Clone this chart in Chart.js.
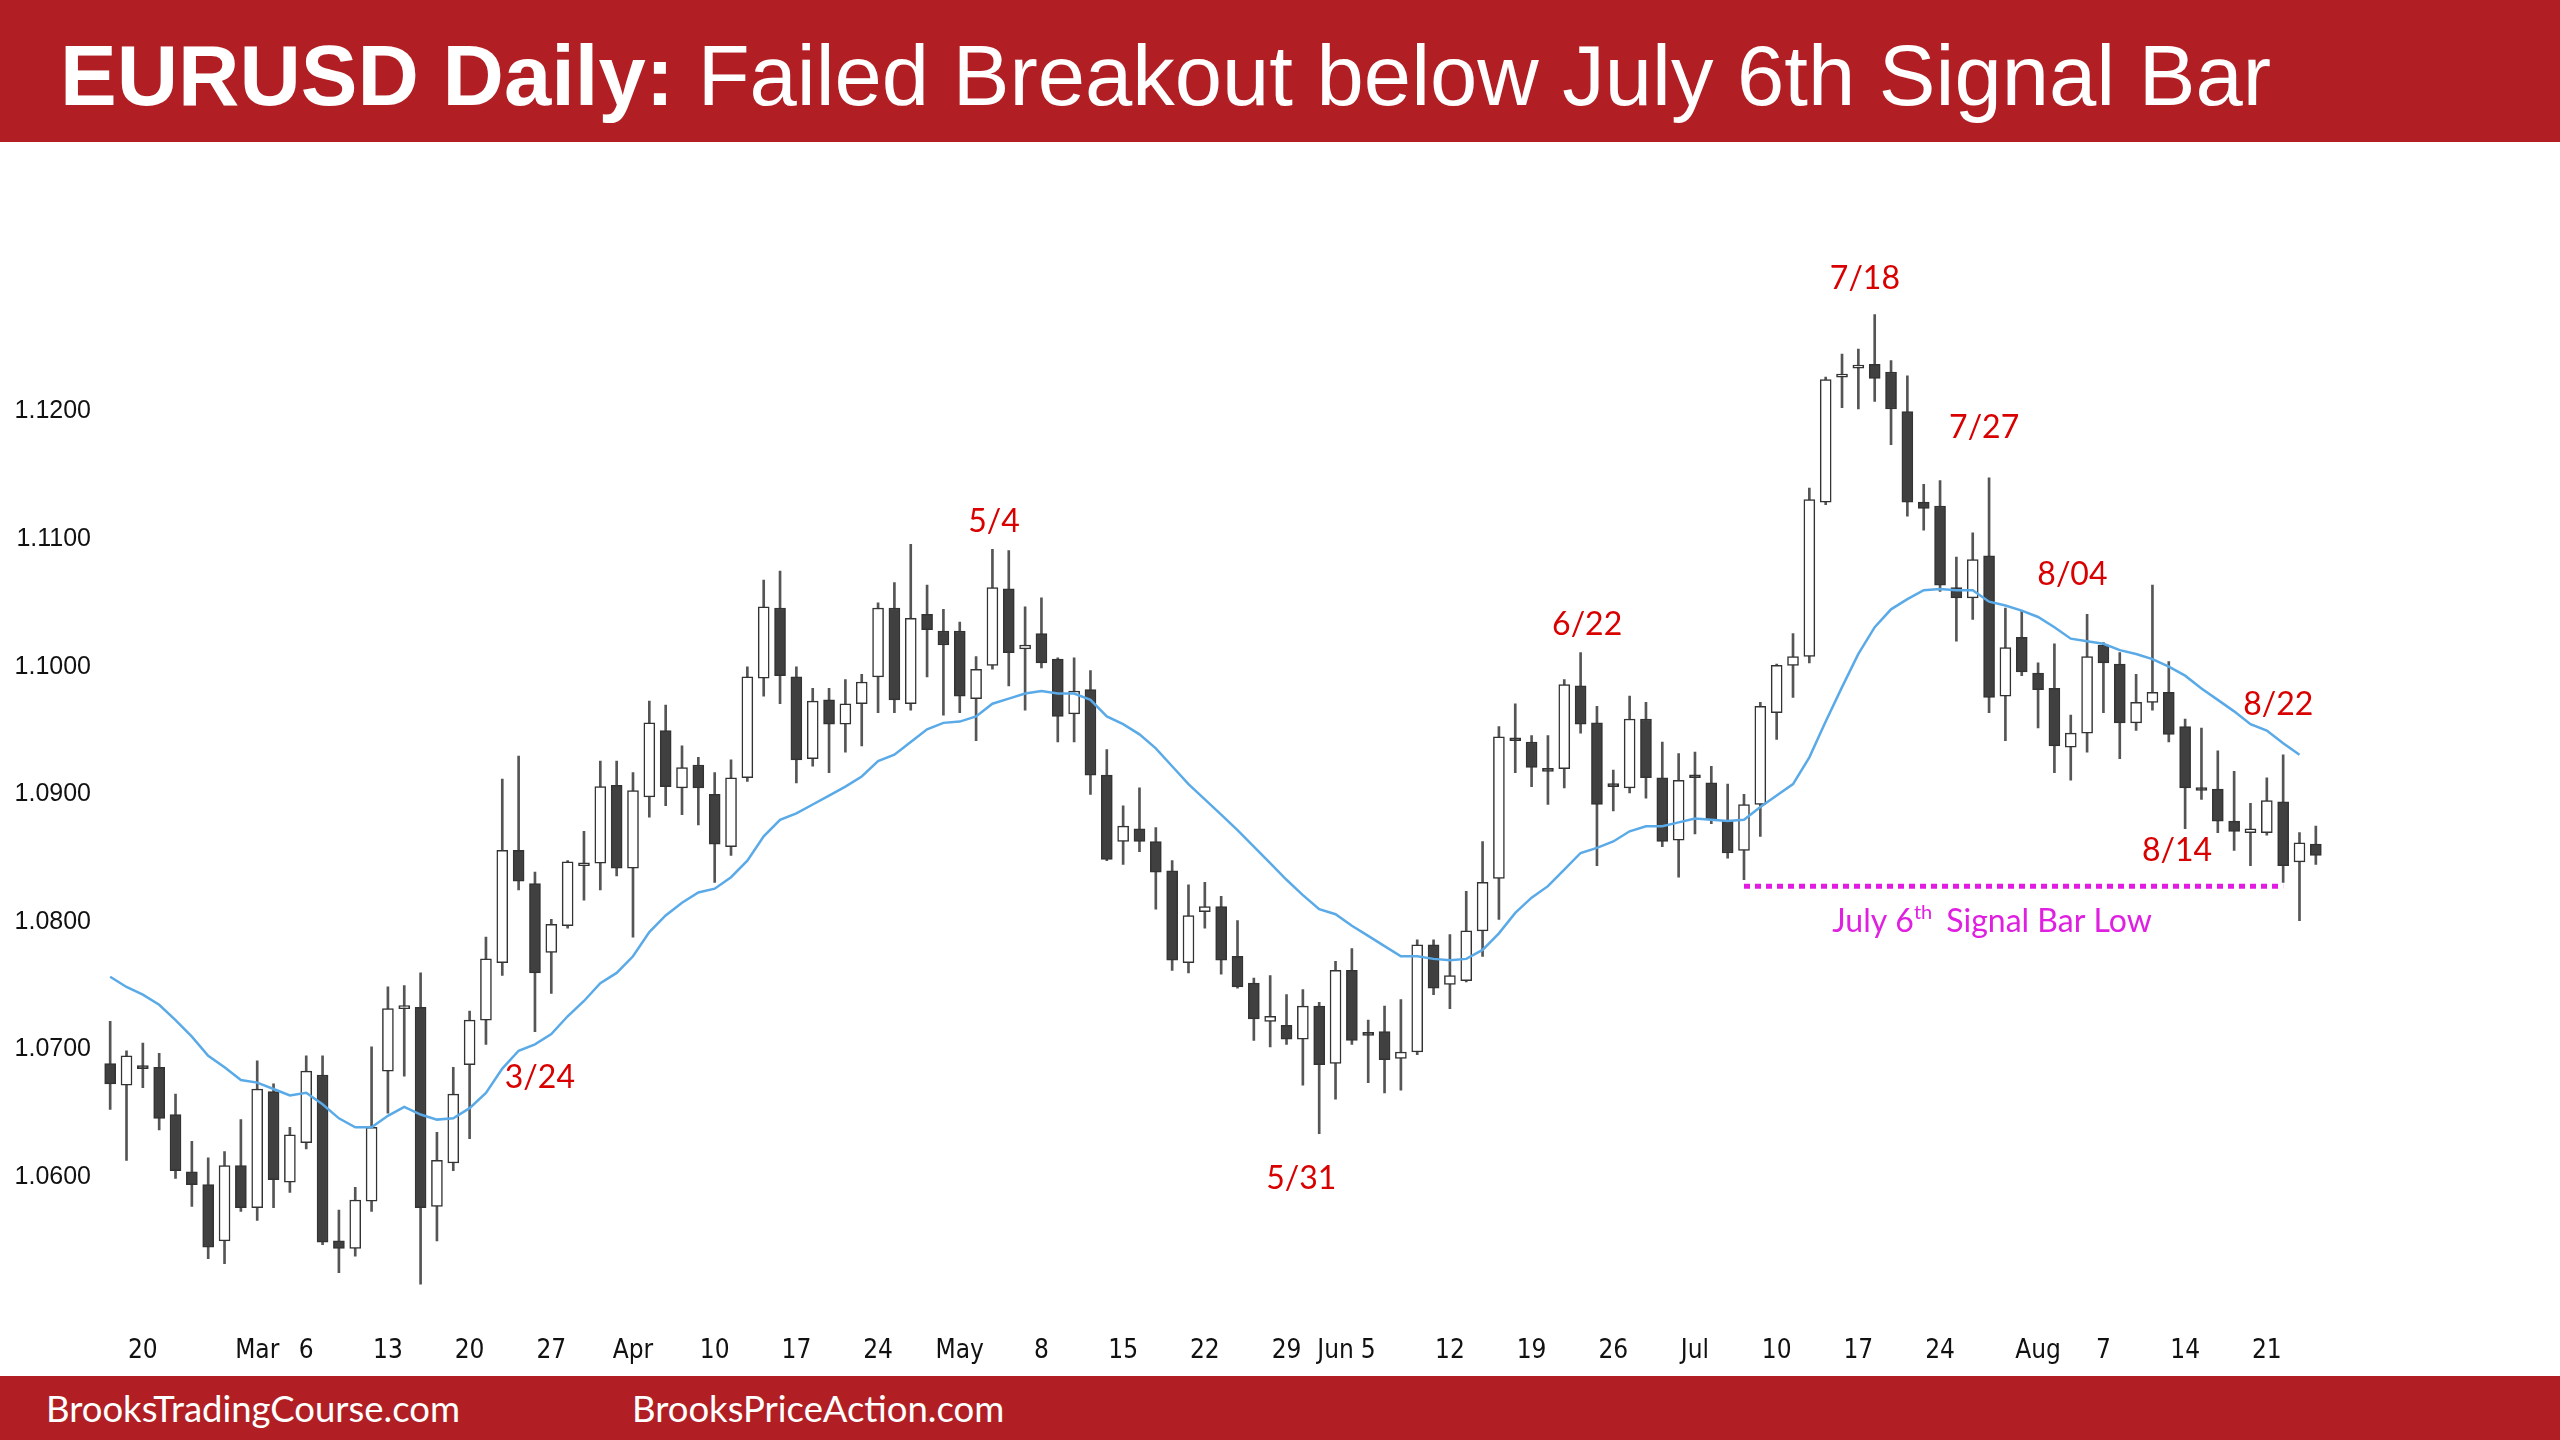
<!DOCTYPE html>
<html>
<head>
<meta charset="utf-8">
<script src="https://cdn.jsdelivr.net/npm/chart.js@4.4.0/dist/chart.umd.min.js"></script>
<style>
  body { margin: 0; width: 2560px; height: 1440px; overflow: hidden; background: #fff; position: relative; }
  #title { position: absolute; left: 0; top: 0; width: 2560px; height: 142px; overflow: hidden; background: #B11F24;
           color: #fff; font-family: 'Liberation Sans', Arial, sans-serif; font-size: 85px; line-height: 152px; padding-left: 60px; box-sizing: border-box; white-space: nowrap; }
  #footer { position: absolute; left: 0; top: 1376px; width: 2560px; height: 64px; background: #B11F24; color: #fff;
            font-family: Lato, 'Open Sans', sans-serif; font-size: 36.5px; line-height: 64px; }
  #footer span { position: absolute; top: 0; }
  #wrap { position: absolute; left: 0; top: 142px; width: 2560px; height: 1234px; }
</style>
</head>
<body>
<div id="title"><b>EURUSD Daily:</b> Failed Breakout below July 6th Signal Bar</div>
<div id="wrap"><canvas id="eurusdChart"></canvas></div>
<div id="footer"><span style="left:46px">BrooksTradingCourse.com</span><span style="left:632px">BrooksPriceAction.com</span></div>
<script>
// Daily bars, Feb 16 - Aug 24 (2023)
const dates = [
  '2/16','2/17','2/20','2/21','2/22','2/23','2/24','2/27','2/28',
  '3/1','3/2','3/3','3/6','3/7','3/8','3/9','3/10','3/13','3/14','3/15','3/16','3/17','3/20','3/21','3/22','3/23','3/24','3/27','3/28','3/29','3/30','3/31',
  '4/3','4/4','4/5','4/6','4/7','4/10','4/11','4/12','4/13','4/14','4/17','4/18','4/19','4/20','4/21','4/24','4/25','4/26','4/27','4/28',
  '5/1','5/2','5/3','5/4','5/5','5/8','5/9','5/10','5/11','5/12','5/15','5/16','5/17','5/18','5/19','5/22','5/23','5/24','5/25','5/26','5/29','5/30','5/31',
  '6/1','6/2','6/5','6/6','6/7','6/8','6/9','6/12','6/13','6/14','6/15','6/16','6/19','6/20','6/21','6/22','6/23','6/26','6/27','6/28','6/29','6/30',
  '7/3','7/4','7/5','7/6','7/7','7/10','7/11','7/12','7/13','7/14','7/17','7/18','7/19','7/20','7/21','7/24','7/25','7/26','7/27','7/28','7/31',
  '8/1','8/2','8/3','8/4','8/7','8/8','8/9','8/10','8/11','8/14','8/15','8/16','8/17','8/18','8/21','8/22','8/23','8/24'
];

const opens = [
  1.0689,1.0672,1.0687,1.0686,1.0649,1.0604,1.0594,1.0550,1.0609,
  1.0576,1.0667,1.0596,1.0627,1.0680,1.0550,1.0544,1.0581,1.0683,1.0732,1.0733,1.0577,1.0611,1.0688,1.0723,1.0768,1.0856,1.0830,1.0776,1.0797,1.0844,1.0846,1.0907,
  1.0842,1.0898,1.0950,1.0905,1.0923,1.0900,1.0859,1.0913,1.0991,1.1046,1.0992,1.0928,1.0974,1.0955,1.0971,1.0992,1.1046,1.0971,1.1041,1.1028,
  1.1028,1.0975,1.1001,1.1061,1.1014,1.1026,1.1006,1.0963,1.0982,1.0915,1.0863,1.0873,1.0863,1.0840,1.0768,1.0808,1.0812,1.0773,1.0752,1.0722,1.0719,1.0708,1.0734,
  1.0689,1.0762,1.0713,1.0714,1.0693,1.0698,1.0782,1.0751,1.0754,1.0793,1.0834,1.0944,1.0941,1.0920,1.0920,1.0985,1.0956,1.0906,1.0905,1.0959,1.0913,1.0864,
  1.0913,1.0909,1.0879,1.0856,1.0892,1.0964,1.1001,1.1008,1.1129,1.1227,1.1234,1.1237,1.1231,1.1200,1.1129,1.1126,1.1062,1.1054,1.1087,1.0977,1.1023,
  1.0995,1.0983,1.0937,1.0948,1.1017,1.1002,1.0956,1.0972,1.0980,1.0953,1.0904,1.0904,1.0879,1.0870,1.0870,1.0894,1.0847,1.0861
];
const highs = [
  1.0722,1.0699,1.0705,1.0697,1.0665,1.0628,1.0615,1.0620,1.0645,
  1.0691,1.0673,1.0639,1.0695,1.0695,1.0574,1.0592,1.0702,1.0749,1.0750,1.0760,1.0635,1.0686,1.0730,1.0788,1.0912,1.0930,1.0839,1.0802,1.0848,1.0871,1.0926,1.0926,
  1.0917,1.0973,1.0970,1.0938,1.0929,1.0917,1.0927,1.1000,1.1068,1.1075,1.1000,1.0983,1.0983,1.0990,1.0994,1.1050,1.1066,1.1096,1.1064,1.1045,
  1.1035,1.1008,1.1092,1.1091,1.1047,1.1054,1.1007,1.1007,1.0997,1.0935,1.0891,1.0905,1.0874,1.0848,1.0829,1.0831,1.0820,1.0801,1.0756,1.0758,1.0743,1.0747,1.0737,
  1.0769,1.0779,1.0723,1.0734,1.0739,1.0786,1.0786,1.0790,1.0824,1.0863,1.0953,1.0971,1.0946,1.0946,1.0990,1.1011,1.0969,1.0919,1.0977,1.0972,1.0941,1.0932,
  1.0933,1.0922,1.0908,1.0900,1.0972,1.1002,1.1026,1.1140,1.1227,1.1245,1.1249,1.1276,1.1240,1.1228,1.1143,1.1146,1.1086,1.1105,1.1148,1.1046,1.1044,
  1.1003,1.1018,1.0962,1.1041,1.1019,1.1011,1.0994,1.1064,1.1004,1.0959,1.0952,1.0934,1.0918,1.0893,1.0913,1.0931,1.0870,1.0875
];
const lows = [
  1.0653,1.0613,1.0670,1.0637,1.0599,1.0577,1.0536,1.0532,1.0573,
  1.0566,1.0576,1.0588,1.0622,1.0547,1.0525,1.0538,1.0573,1.0650,1.0679,1.0516,1.0550,1.0605,1.0630,1.0704,1.0758,1.0825,1.0714,1.0744,1.0795,1.0817,1.0825,1.0836,
  1.0788,1.0882,1.0891,1.0884,1.0876,1.0831,1.0852,1.0910,1.0977,1.0971,1.0909,1.0922,1.0917,1.0933,1.0938,1.0964,1.0964,1.0966,1.0992,1.0962,
  1.0964,1.0942,1.0998,1.0985,1.0966,1.0999,1.0941,1.0941,1.0900,1.0848,1.0845,1.0855,1.0810,1.0762,1.0760,1.0795,1.0759,1.0748,1.0707,1.0702,1.0704,1.0672,1.0634,
  1.0661,1.0704,1.0674,1.0666,1.0668,1.0696,1.0743,1.0732,1.0753,1.0773,1.0802,1.0917,1.0906,1.0892,1.0905,1.0948,1.0844,1.0887,1.0901,1.0897,1.0859,1.0835,
  1.0869,1.0877,1.0850,1.0833,1.0867,1.0943,1.0976,1.1003,1.1127,1.1203,1.1202,1.1208,1.1174,1.1118,1.1107,1.1059,1.1020,1.1037,1.0964,1.0942,1.0993,
  1.0952,1.0917,1.0911,1.0933,1.0964,1.0928,1.0950,1.0966,1.0941,1.0873,1.0896,1.0870,1.0856,1.0844,1.0868,1.0831,1.0801,1.0845
];
const closes = [
  1.0673,1.0695,1.0685,1.0646,1.0605,1.0594,1.0545,1.0609,1.0576,
  1.0669,1.0598,1.0633,1.0683,1.0549,1.0544,1.0582,1.0639,1.0732,1.0734,1.0576,1.0613,1.0665,1.0723,1.0771,1.0856,1.0832,1.0760,1.0798,1.0847,1.0845,1.0906,1.0842,
  1.0903,1.0956,1.0906,1.0921,1.0905,1.0861,1.0913,1.0992,1.1047,1.0993,1.0927,1.0973,1.0955,1.0971,1.0988,1.1046,1.0974,1.1038,1.1029,1.1017,
  1.0977,1.0998,1.1062,1.1011,1.1017,1.1003,1.0961,1.0981,1.0915,1.0849,1.0875,1.0863,1.0839,1.0770,1.0805,1.0812,1.0770,1.0749,1.0724,1.0726,1.0708,1.0734,1.0688,
  1.0762,1.0707,1.0711,1.0692,1.0698,1.0782,1.0748,1.0758,1.0793,1.0831,1.0945,1.0942,1.0921,1.0918,1.0986,1.0955,1.0892,1.0906,1.0959,1.0913,1.0863,1.0911,
  1.0913,1.0880,1.0854,1.0892,1.0969,1.1001,1.1008,1.1131,1.1225,1.1228,1.1236,1.1226,1.1202,1.1129,1.1124,1.1064,1.1054,1.1084,1.0976,1.1015,1.0996,
  1.0982,1.0938,1.0948,1.1008,1.1003,1.0956,1.0972,1.0980,1.0947,1.0905,1.0903,1.0879,1.0871,1.0873,1.0895,1.0844,1.0862,1.0852
];
// moving average line
const ema20 = [
  1.0757,1.0749,1.0743,1.0735,1.0723,1.0710,1.0695,1.0686,1.0676,
  1.0674,1.0669,1.0664,1.0666,1.0657,1.0646,1.0639,1.0639,1.0648,1.0655,1.0649,1.0645,1.0646,1.0654,1.0666,1.0685,1.0699,1.0704,1.0712,1.0726,1.0738,1.0752,1.0760,
  1.0773,1.0792,1.0805,1.0815,1.0823,1.0826,1.0835,1.0848,1.0867,1.0880,1.0885,1.0892,1.0899,1.0906,1.0914,1.0926,1.0931,1.0941,1.0951,1.0956,
  1.0957,1.0961,1.0971,1.0975,1.0979,1.0981,1.0979,1.0979,1.0974,1.0961,1.0955,1.0947,1.0936,1.0922,1.0908,1.0896,1.0884,1.0872,1.0859,1.0846,1.0833,1.0821,1.0810,
  1.0806,1.0797,1.0789,1.0781,1.0773,1.0773,1.0771,1.0770,1.0771,1.0778,1.0791,1.0807,1.0819,1.0828,1.0841,1.0854,1.0858,1.0863,1.0871,1.0875,1.0875,1.0878,
  1.0881,1.0880,1.0879,1.0880,1.0890,1.0899,1.0908,1.0929,1.0957,1.0984,1.1010,1.1031,1.1045,1.1053,1.1060,1.1061,1.1060,1.1060,1.1051,1.1048,1.1044,
  1.1039,1.1031,1.1022,1.1020,1.1018,1.1013,1.1010,1.1006,1.1000,1.0993,1.0983,1.0974,1.0965,1.0955,1.0950,1.0940,1.0931,null
];

// x axis labels (date -> text)
const tickDates = ['2/20','3/1','3/6','3/13','3/20','3/27','4/3','4/10','4/17','4/24','5/1','5/8','5/15','5/22','5/29','6/1','6/5','6/12','6/19','6/26','7/3','7/10','7/17','7/24','8/1','8/7','8/14','8/21'];
const tickTexts = ['20','Mar','6','13','20','27','Apr','10','17','24','May','8','15','22','29','Jun','5','12','19','26','Jul','10','17','24','Aug','7','14','21'];
const yTickValues = [1.06, 1.07, 1.08, 1.09, 1.10, 1.11, 1.12];

// July 6th signal bar low
const signalLow = 1.0828;
const signalFrom = '7/6';
const signalTo = '8/22';

// red swing labels: x in bar index, y in price
const notes = [
  { text: '7/18', x: 107.4, y: 1.1304 },
  { text: '7/27', x: 114.7, y: 1.1187 },
  { text: '5/4',  x: 54.1,  y: 1.1114 },
  { text: '8/04', x: 120.1, y: 1.1072 },
  { text: '6/22', x: 90.4,  y: 1.1033 },
  { text: '8/22', x: 132.7, y: 1.0970 },
  { text: '8/14', x: 126.5, y: 1.0856 },
  { text: '3/24', x: 26.3,  y: 1.0678 },
  { text: '5/31', x: 72.9,  y: 1.0599 }
];

const bodies = opens.map((o, i) => [o, closes[i]]);
const wicks = lows.map((l, i) => [l, highs[i]]);
const bodyColors = opens.map((o, i) => closes[i] > o ? '#ffffff' : '#404040');
const signalData = dates.map(d => (d === signalFrom || d === signalTo) ? signalLow : null);

const notesPlugin = {
  id: 'notes',
  afterDatasetsDraw(chart) {
    const { ctx, scales: { x, y } } = chart;
    ctx.save();
    ctx.fillStyle = '#D90000';
    ctx.font = '32px Lato';
    ctx.textAlign = 'center';
    ctx.textBaseline = 'middle';
    notes.forEach(n => ctx.fillText(n.text, x.getPixelForValue(n.x), y.getPixelForValue(n.y)));

    // "July 6th Signal Bar Low"
    ctx.fillStyle = '#E020E0';
    ctx.textAlign = 'left';
    ctx.textBaseline = 'alphabetic';
    let px = x.getPixelForValue(105.4);
    const py = y.getPixelForValue(1.0801) + 11;
    ctx.font = '32px Lato';
    ctx.fillText('July 6', px, py);
    px += ctx.measureText('July 6').width;
    ctx.font = '20px Lato';
    ctx.fillText('th', px, py - 13);
    px += ctx.measureText('th').width + 14;
    ctx.font = '32px Lato';
    ctx.fillText('Signal Bar Low', px, py);
    ctx.restore();
  }
};

const ctx = document.getElementById('eurusdChart').getContext('2d');
new Chart(ctx, {
  data: {
    labels: dates,
    datasets: [
      {
        type: 'line',
        label: 'EMA',
        data: ema20,
        borderColor: '#5AAAE8',
        borderWidth: 2.5,
        pointRadius: 0,
        order: 0
      },
      {
        type: 'line',
        label: 'Signal bar low',
        data: signalData,
        borderColor: '#E21BE2',
        borderWidth: 5,
        borderDash: [6, 5],
        pointRadius: 0,
        spanGaps: true,
        order: 0
      },
      {
        type: 'bar',
        label: 'Body',
        data: bodies,
        backgroundColor: bodyColors,
        borderColor: '#333333',
        borderWidth: 1.5,
        borderSkipped: false,
        barThickness: 11,
        minBarLength: 3,
        grouped: false,
        order: 1
      },
      {
        type: 'bar',
        label: 'Wick',
        data: wicks,
        backgroundColor: '#555555',
        barThickness: 2,
        grouped: false,
        order: 2
      }
    ]
  },
  options: {
    responsive: true,
    maintainAspectRatio: false,
    animation: false,
    events: [],
    layout: { padding: { top: 142, right: 236, left: 0, bottom: 0 } },
    plugins: {
      legend: { display: false },
      tooltip: { enabled: false }
    },
    scales: {
      x: {
        type: 'category',
        offset: true,
        grid: { display: false, drawTicks: false },
        border: { display: false },
        ticks: {
          autoSkip: false,
          maxRotation: 0,
          padding: 31,
          color: '#111111',
          font: { family: "'Liberation Sans Narrow', 'Arial Narrow', 'DejaVu Sans Condensed', sans-serif", size: 26 },
          callback: (v, i) => {
            const k = tickDates.indexOf(dates[i]);
            return k >= 0 ? tickTexts[k] : '';
          }
        },
        afterFit: s => { s.height = 71.4; }
      },
      y: {
        min: 1.05,
        max: 1.13,
        grid: { display: false, drawTicks: false },
        border: { display: false },
        ticks: {
          padding: 11,
          color: '#111111',
          font: { family: "'Liberation Sans', Arial, sans-serif", size: 25 },
          callback: v => v.toFixed(4)
        },
        afterBuildTicks: s => { s.ticks = yTickValues.map(v => ({ value: v })); },
        afterFit: s => { s.width = 102; }
      }
    }
  },
  plugins: [notesPlugin]
});
</script>
</body>
</html>
